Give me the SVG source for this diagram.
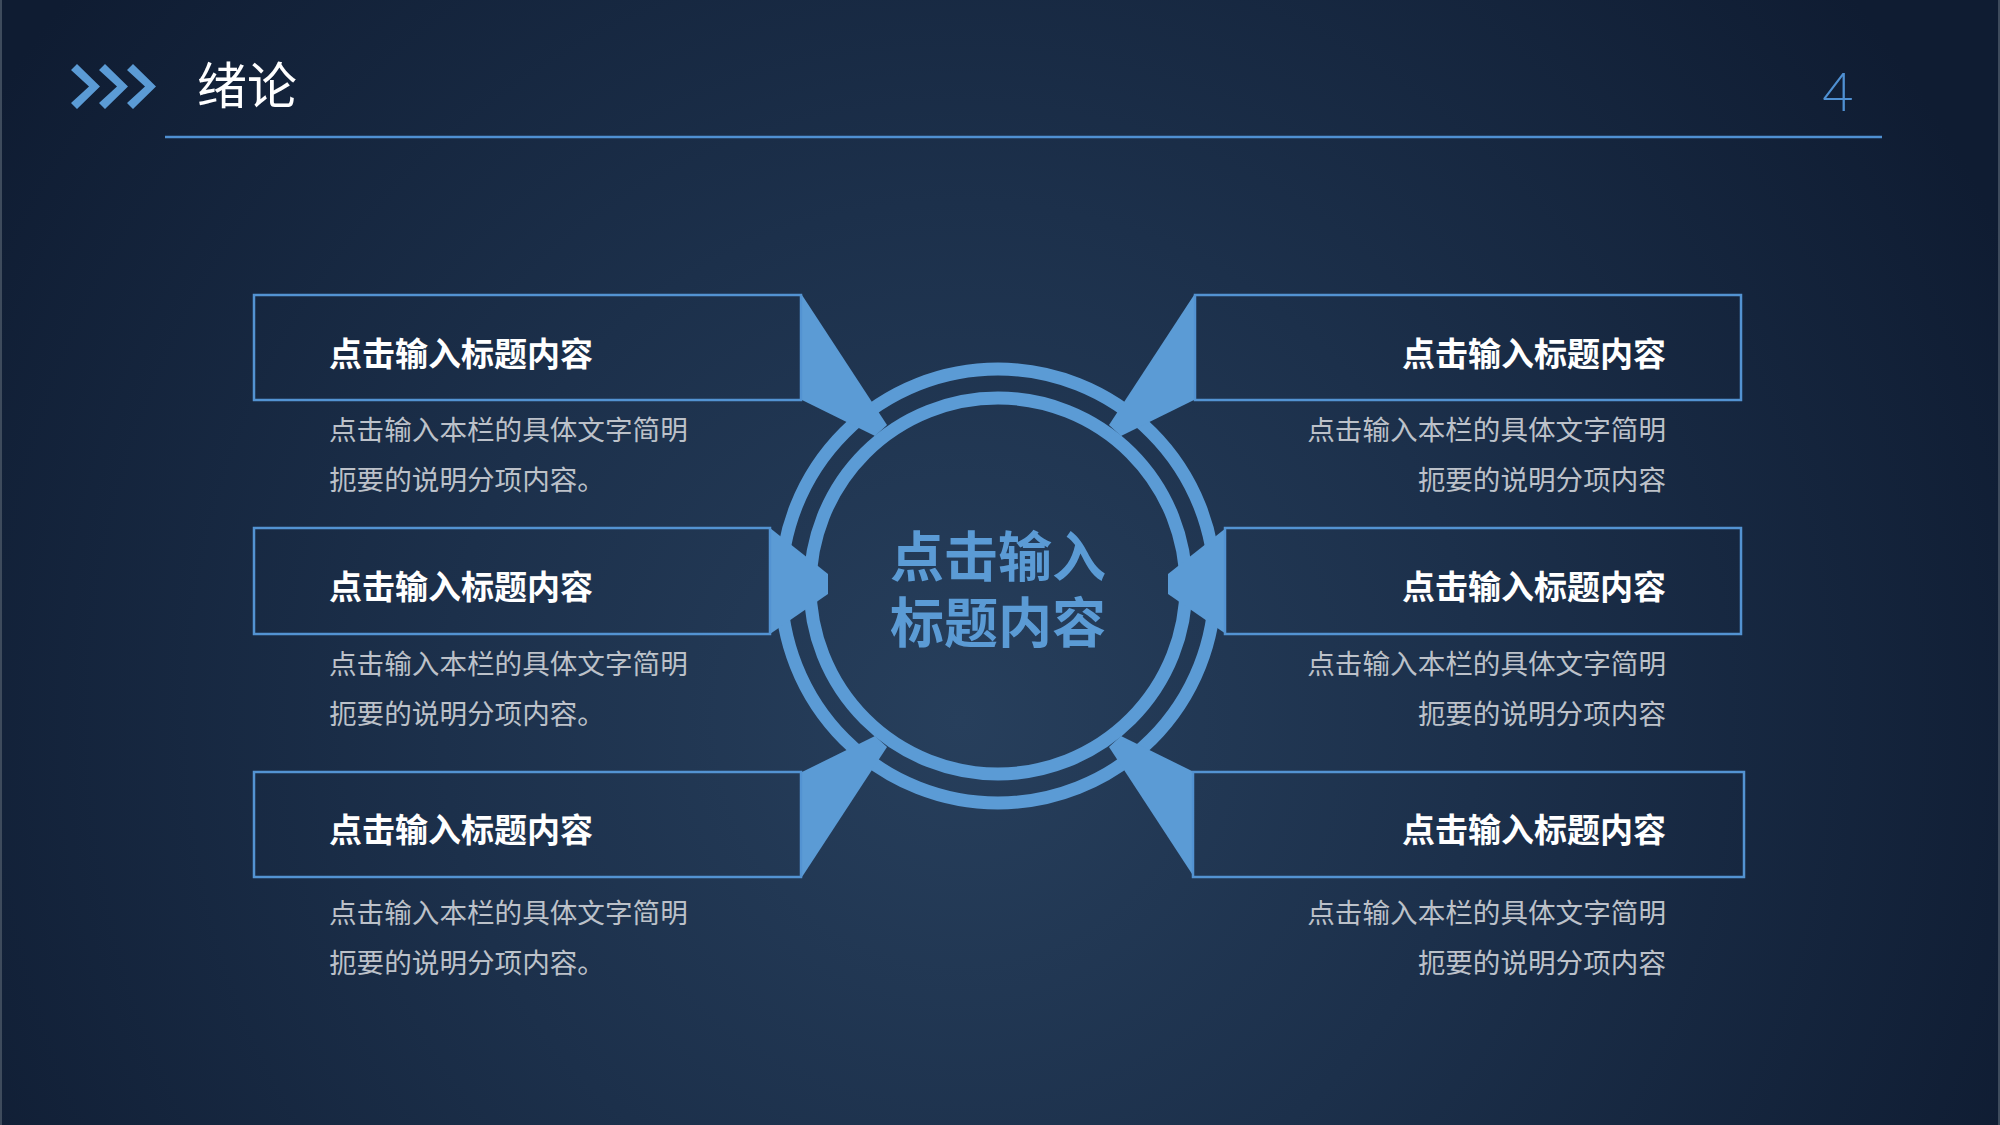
<svg xmlns="http://www.w3.org/2000/svg" width="2000" height="1125" viewBox="0 0 2000 1125">
  <defs>
    <radialGradient id="bg" cx="960" cy="720" r="1150" gradientUnits="userSpaceOnUse">
      <stop offset="0" stop-color="#273f5c"/>
      <stop offset="0.45" stop-color="#1c304b"/>
      <stop offset="1" stop-color="#0f1c32"/>
    </radialGradient>
    <style>
      .blue { fill: #5b9bd5; }
      .box { fill: none; stroke: #5393d2; stroke-width: 2.5; }
      .ring { fill: none; stroke: #5b9bd5; stroke-width: 13; }
      .ttl { font-family: "Noto Sans CJK SC", "Noto Sans", sans-serif; font-weight: 700; font-size: 33px; fill: #ffffff; }
      .desc { font-family: "Noto Sans CJK SC", "Noto Sans", sans-serif; font-weight: 400; font-size: 27.6px; fill: #bcc1c9; }
      .ctr { font-family: "Noto Sans CJK SC", "Noto Sans", sans-serif; font-weight: 700; font-size: 54px; fill: #5b9bd5; }
      .r { text-anchor: end; }
    </style>
  </defs>

  <rect x="0" y="0" width="2000" height="1125" fill="url(#bg)"/>
  <rect x="0" y="0" width="2" height="1125" fill="#3e4b5c"/>
  <rect x="1998" y="0" width="2" height="1125" fill="#3e4b5c"/>

  <g id="header">
    <polygon class="blue" points="71,70 77,64 100,86.5 77,109 71,103 89,86.5"/>
    <polygon class="blue" points="99,70 105,64 128,86.5 105,109 99,103 117,86.5"/>
    <polygon class="blue" points="127,70 133,64 156,86.5 133,109 127,103 145,86.5"/>
    <text x="197" y="104" font-family="Noto Sans CJK SC, Noto Sans, sans-serif" font-size="50" fill="#ffffff">绪论</text>
    <line x1="165" y1="137" x2="1882" y2="137" stroke="#4f90d2" stroke-width="2.5"/>
    <text x="1838" y="111" text-anchor="middle" font-family="Lato, Liberation Sans, sans-serif" font-weight="300" font-size="54" fill="#4f90d2">4</text>
  </g>

  <g id="center">
    <circle class="ring" cx="998" cy="586" r="217"/>
    <circle class="ring" cx="998" cy="586" r="188"/>
    <text class="ctr" text-anchor="middle"><tspan x="998" y="577">点击输入</tspan><tspan x="998" y="643">标题内容</tspan></text>
  </g>

  <g id="connectors">
    <polygon class="blue" points="802,295 887,425 875,436 802,400"/>
    <polygon class="blue" points="770,528 828,574 828,594 770,634"/>
    <polygon class="blue" points="802,877 887,747 875,736 802,772"/>
    <polygon class="blue" points="1194,295 1109,425 1121,436 1194,400"/>
    <polygon class="blue" points="1226,528 1168,574 1168,594 1226,634"/>
    <polygon class="blue" points="1194,877 1109,747 1121,736 1194,772"/>
  </g>

  <g id="node-tl">
    <rect class="box" x="254" y="295" width="547" height="105"/>
    <text class="ttl" x="329" y="366">点击输入标题内容</text>
    <text class="desc" x="329" y="440">点击输入本栏的具体文字简明</text>
    <text class="desc" x="329" y="490">扼要的说明分项内容。</text>
  </g>

  <g id="node-ml">
    <rect class="box" x="254" y="528" width="516" height="106"/>
    <text class="ttl" x="329" y="599">点击输入标题内容</text>
    <text class="desc" x="329" y="674">点击输入本栏的具体文字简明</text>
    <text class="desc" x="329" y="724">扼要的说明分项内容。</text>
  </g>

  <g id="node-bl">
    <rect class="box" x="254" y="772" width="547" height="105"/>
    <text class="ttl" x="329" y="842">点击输入标题内容</text>
    <text class="desc" x="329" y="923">点击输入本栏的具体文字简明</text>
    <text class="desc" x="329" y="973">扼要的说明分项内容。</text>
  </g>

  <g id="node-tr">
    <rect class="box" x="1195" y="295" width="546" height="105"/>
    <text class="ttl r" x="1666" y="366">点击输入标题内容</text>
    <text class="desc r" x="1666" y="440">点击输入本栏的具体文字简明</text>
    <text class="desc r" x="1666" y="490">扼要的说明分项内容</text>
  </g>

  <g id="node-mr">
    <rect class="box" x="1225" y="528" width="516" height="106"/>
    <text class="ttl r" x="1666" y="599">点击输入标题内容</text>
    <text class="desc r" x="1666" y="674">点击输入本栏的具体文字简明</text>
    <text class="desc r" x="1666" y="724">扼要的说明分项内容</text>
  </g>

  <g id="node-br">
    <rect class="box" x="1193" y="772" width="551" height="105"/>
    <text class="ttl r" x="1666" y="842">点击输入标题内容</text>
    <text class="desc r" x="1666" y="923">点击输入本栏的具体文字简明</text>
    <text class="desc r" x="1666" y="973">扼要的说明分项内容</text>
  </g>
</svg>
